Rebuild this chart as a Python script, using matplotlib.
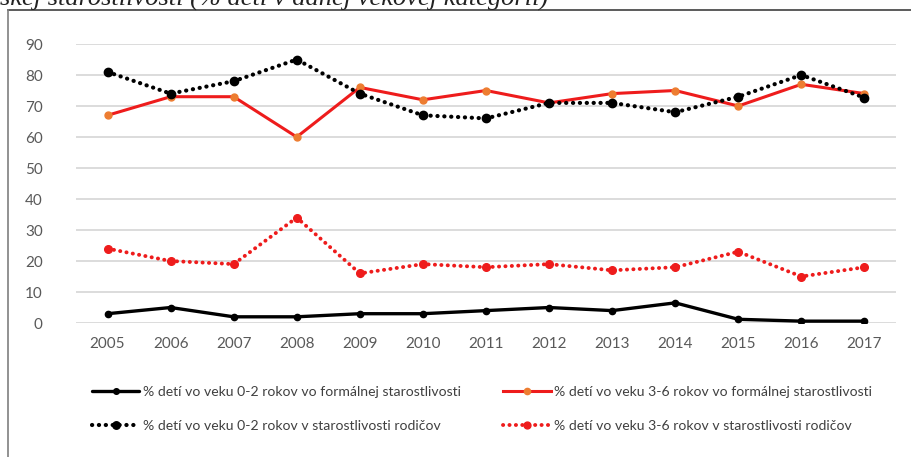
import matplotlib
matplotlib.use('Agg')
import matplotlib.pyplot as plt
from matplotlib.lines import Line2D

# Data
years = ['2005', '2006', '2007', '2008', '2009', '2010', '2011',
         '2012', '2013', '2014', '2015', '2016', '2017']
formal_0_2 = [3, 5, 2, 2, 3, 3, 4, 5, 4, 6.5, 1.2, 0.6, 0.6]
formal_3_6 = [67, 73, 73, 60, 76, 72, 75, 71, 74, 75, 70, 77, 74]
parents_0_2 = [81, 74, 78, 85, 74, 67, 66, 71, 71, 68, 73, 80, 72.7]
parents_3_6 = [24, 20, 19, 34, 16, 19, 18, 19, 17, 18, 23, 15, 18]

labels = ['% detí vo veku 0-2 rokov vo formálnej starostlivosti',
          '% detí vo veku 3-6 rokov vo formálnej starostlivosti',
          '% detí vo veku 0-2 rokov v starostlivosti rodičov',
          '% detí vo veku 3-6 rokov v starostlivosti rodičov']
title_text = 'skej starostlivosti (% detí v danej vekovej kategorii)'

plt.rcParams['font.family'] = ['Lato', 'DejaVu Sans']

fig = plt.figure(figsize=(9.11, 4.57), dpi=100)
ax = fig.add_axes([0.0834, 0.2932, 0.9001, 0.6105])

x = list(range(len(years)))
dot = (0, (0.05, 1.6))

l1, = ax.plot(x, formal_0_2, color='black', lw=2.4, marker='o', ms=4.5,
              solid_capstyle='round', zorder=3)
l2, = ax.plot(x, formal_3_6, color='#ee1c1c', lw=2.2, marker='o', ms=5,
              markerfacecolor='#ed7d31', markeredgecolor='#ed7d31', zorder=3)
l3, = ax.plot(x, parents_0_2, color='black', lw=3, linestyle=dot,
              dash_capstyle='round', marker='o', ms=6, zorder=4)
l4, = ax.plot(x, parents_3_6, color='#ee1c1c', lw=2.8, linestyle=dot,
              dash_capstyle='round', marker='o', ms=5.5, zorder=3)

ax.set_xlim(-0.5, len(years) - 0.5)
ax.set_ylim(0, 90)
ax.set_yticks(range(0, 91, 10))
ax.set_xticks(x)
ax.set_xticklabels(years)
ax.grid(axis='y', color='#d9d9d9', lw=1.3)
ax.set_axisbelow(True)
for s in ax.spines.values():
    s.set_visible(False)
ax.tick_params(length=0, labelsize=11, labelcolor='#595959', pad=10)
ax.tick_params(axis='y', pad=24)

leg = fig.legend([l1, l3, l2, l4], [labels[0], labels[2], labels[1], labels[3]],
                 ncol=2, loc='center', bbox_to_anchor=(0.529, 0.105),
                 frameon=False, fontsize=10.1, handlelength=3.4,
                 handletextpad=0.25, columnspacing=3.0, labelspacing=1.55,
                 markerscale=0.9)
for t in leg.get_texts():
    t.set_color('#404040')

# frame around the chart
fig.add_artist(Line2D([8 / 911, 1.0], [1 - 10 / 457, 1 - 10 / 457],
                      color='#404040', lw=1.2, transform=fig.transFigure))
fig.add_artist(Line2D([8 / 911, 8 / 911], [0, 1 - 10 / 457],
                      color='#7f7f7f', lw=1.2, transform=fig.transFigure))

# caption above the chart, cut off at the top as in the source
fig.text(0.0, 1 - 6 / 457, title_text, family='Liberation Serif',
         style='italic', fontsize=19, color='#222222', va='baseline', ha='left')

fig.savefig('out.png', dpi=100)
